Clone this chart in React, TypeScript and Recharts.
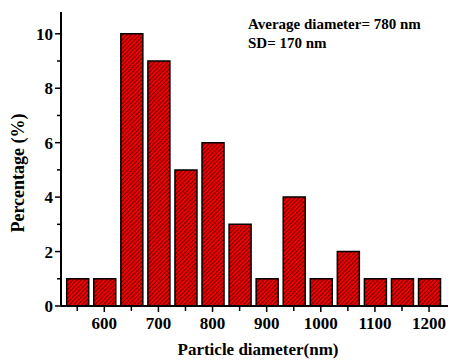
import { Bar, BarChart, XAxis, YAxis } from "recharts";

const diameters = [550, 600, 650, 700, 750, 800, 850, 900, 950, 1000, 1050, 1100, 1150, 1200];
const percentages = [1, 1, 10, 9, 5, 6, 3, 1, 4, 1, 2, 1, 1, 1];
const xTicks = [550, 600, 650, 700, 750, 800, 850, 900, 950, 1000, 1050, 1100, 1150, 1200];
const yTicks = [0, 1, 2, 3, 4, 5, 6, 7, 8, 9, 10];
const notes = ["Average diameter= 780 nm", "SD= 170 nm"];

const data = diameters.map((d, i) => ({ diameter: d, pct: percentages[i] }));

const FONT = "'Liberation Serif', 'Times New Roman', serif";

function XTick(props: any) {
  const { x, y, payload } = props;
  const major = payload.value % 100 === 0;
  return (
    <g>
      <line x1={x} x2={x} y1={y} y2={y + (major ? 6 : 5)} stroke="#000" strokeWidth={1.5} />
      {major ? (
        <text x={x} y={y + 23} textAnchor="middle" fontFamily={FONT} fontWeight="bold" fontSize={17} fill="#000">
          {payload.value}
        </text>
      ) : null}
    </g>
  );
}

function YTick(props: any) {
  const { x, y, payload } = props;
  const major = payload.value % 2 === 0;
  return (
    <g>
      <line x1={x - (major ? 6 : 4)} x2={x} y1={y} y2={y} stroke="#000" strokeWidth={1.5} />
      {major ? (
        <text x={x - 8} y={y + 6} textAnchor="end" fontFamily={FONT} fontWeight="bold" fontSize={17} fill="#000">
          {payload.value}
        </text>
      ) : null}
    </g>
  );
}

export default function App() {
  return (
    <div style={{ position: "relative", width: 452, height: 361 }}>
      <style>{`body{margin:0;}`}</style>
      <BarChart width={452} height={361} data={data} margin={{ top: 12, right: 4, left: 0, bottom: 0 }}>
        <defs>
          <pattern id="hatch" width="3" height="3" patternUnits="userSpaceOnUse" patternTransform="rotate(45)">
            <rect width="3" height="3" fill="#f00000" />
            <line x1="0" y1="0" x2="0" y2="3" stroke="#000" strokeWidth="1.1" />
          </pattern>
        </defs>
        <XAxis
          dataKey="diameter"
          type="number"
          domain={[520, 1235]}
          ticks={xTicks}
          interval={0}
          height={55}
          tickSize={0}
          tickMargin={0}
          tickLine={false}
          tick={<XTick />}
          axisLine={{ stroke: "#000", strokeWidth: 2 }}
          allowDataOverflow
        />
        <YAxis
          type="number"
          domain={[0, 10.8]}
          ticks={yTicks}
          interval={0}
          width={61}
          tickSize={0}
          tickMargin={0}
          tickLine={false}
          tick={<YTick />}
          axisLine={{ stroke: "#000", strokeWidth: 2 }}
          allowDataOverflow
        />
        <Bar dataKey="pct" barSize={22} fill="url(#hatch)" stroke="#000" strokeWidth={1.5} isAnimationActive={false} />
      </BarChart>
      <svg
        width={452}
        height={361}
        style={{ position: "absolute", left: 0, top: 0, pointerEvents: "none" }}
        fontFamily={FONT}
        fontWeight="bold"
        fill="#000"
      >
        <text x={248} y={29} fontSize={15}>{notes[0]}</text>
        <text x={248} y={48} fontSize={15}>{notes[1]}</text>
        <text x={258} y={355} fontSize={17} textAnchor="middle">Particle diameter(nm)</text>
        <text x={24} y={173} fontSize={18} textAnchor="middle" transform="rotate(-90 24 173)">
          Percentage (%)
        </text>
      </svg>
    </div>
  );
}
